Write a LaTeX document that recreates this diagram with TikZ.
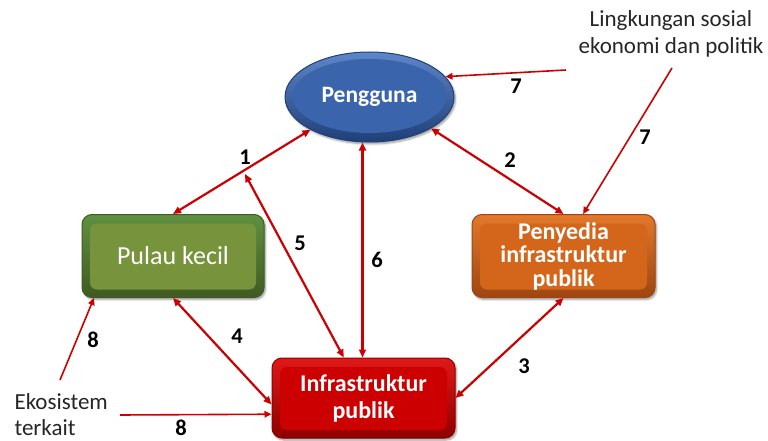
\documentclass[tikz,border=0pt]{standalone}
\usepackage{fontspec}
\setmainfont{Carlito}
\usetikzlibrary{arrows.meta,shapes.geometric,shadows.blur}
\definecolor{arr}{HTML}{CC0000}
\definecolor{bluebase}{HTML}{3A64AB}
\definecolor{bluelight}{HTML}{5E86C8}
\definecolor{bluedark}{HTML}{1F3F78}
\definecolor{greenbase}{HTML}{77933C}
\definecolor{greenlight}{HTML}{5F9140}
\definecolor{greendark}{HTML}{3F5A22}
\definecolor{orangebase}{HTML}{D4661B}
\definecolor{orangelight}{HTML}{E2792C}
\definecolor{orangedark}{HTML}{9E4510}
\definecolor{redbase}{HTML}{CC0000}
\definecolor{redlight}{HTML}{E01818}
\definecolor{reddark}{HTML}{8E0000}
\begin{document}
\begin{tikzpicture}[x=1pt,y=-1pt,
  conn/.style={draw=arr, line width=2.2pt, {Triangle[length=8pt,width=7pt]}-{Triangle[length=8pt,width=7pt]}},
  ext/.style={draw=arr, line width=1.6pt, -{Triangle[length=7pt,width=6.5pt]}},
  num/.style={font=\fontsize{22.5}{26}\selectfont\bfseries, text=black},
  plain/.style={font=\fontsize{23}{27}\selectfont, text=black!85},
  shad/.style={blur shadow={shadow xshift=1.5pt, shadow yshift=-2pt, shadow blur steps=6, shadow opacity=40}},
  bevelbox/.style n args={3}{shad, rounded corners=10pt, top color=#2, bottom color=#3, draw=#3, line width=1pt,
    align=center, text=white,
    path picture={\fill[#1, rounded corners=7pt] ([shift={(8pt,-9pt)}]path picture bounding box.north west) rectangle ([shift={(-8pt,8pt)}]path picture bounding box.south east);}},
  bevelell/.style n args={3}{shad, ellipse, top color=#2, bottom color=#3, draw=#3, line width=1pt, text=white,
    path picture={\fill[#1] ([yshift=1pt]path picture bounding box.center) ellipse [x radius=77pt, y radius=37pt];}},
]
\useasboundingbox (0,0) rectangle (768,441);

\node[bevelell={bluebase}{bluelight}{bluedark}, minimum width=169pt, minimum height=90pt, inner sep=0pt,
  font=\fontsize{23.5}{27}\selectfont\bfseries] (peng) at (369.5,97) {Pengguna};
\node[bevelbox={greenbase}{greenlight}{greendark}, minimum width=182pt, minimum height=83pt,
  font=\fontsize{26}{30}\selectfont] (pulau) at (173,256) {Pulau kecil};
\node[bevelbox={orangebase}{orangelight}{orangedark}, minimum width=183pt, minimum height=83pt, inner sep=0pt,
  font=\fontsize{24}{23.5}\selectfont\bfseries] (pen) at (563.5,256) {Penyedia\\infrastruktur\\publik};
\node[bevelbox={redbase}{redlight}{reddark}, minimum width=183pt, minimum height=80pt,
  font=\fontsize{24}{27}\selectfont\bfseries] (infra) at (363.5,398) {Infrastruktur\\publik};

\node[plain, align=left, anchor=west, font=\fontsize{23}{26}\selectfont] (eko) at (11,415) {Ekosistem\\terkait};
\node[plain, align=center] (ling) at (671,33.5) {Lingkungan sosial\\ekonomi dan politik};

\coordinate (c5) at (245,174);
\coordinate (e8a) at (60,380);
\coordinate (e8b) at (120,415);
\coordinate (l7a) at (566,70);
\coordinate (l7b) at (672,68);

\draw[conn] (peng.209) -- (pulau.north);
\draw[conn] (c5) -- (infra.116);
\draw[conn] ([xshift=-1pt]infra.north) -- ([xshift=-1pt]infra.north |- peng.south);
\draw[conn] (peng.-27) -- (pen.north);
\draw[conn] (pen.south) -- (infra.east);
\draw[conn] (pulau.south) -- (infra.184);
\draw[ext] (l7a) -- (peng.15);
\draw[ext] (l7b) -- (pen.65);
\draw[ext] (e8a) -- (pulau.208);
\draw[ext] (e8b) -- (infra.190);

\node[num] (n1) at (245,157) {1};
\node[num] (n2) at (510,160) {2};
\node[num] (n3) at (524,366) {3};
\node[num] (n4) at (237,336) {4};
\node[num] (n5) at (300,243) {5};
\node[num] (n6) at (377,260) {6};
\node[num] (n7a) at (516,86) {7};
\node[num] (n7b) at (645,137) {7};
\node[num] (n8a) at (93,340) {8};
\node[num] (n8b) at (181,428) {8};
\end{tikzpicture}
\end{document}
